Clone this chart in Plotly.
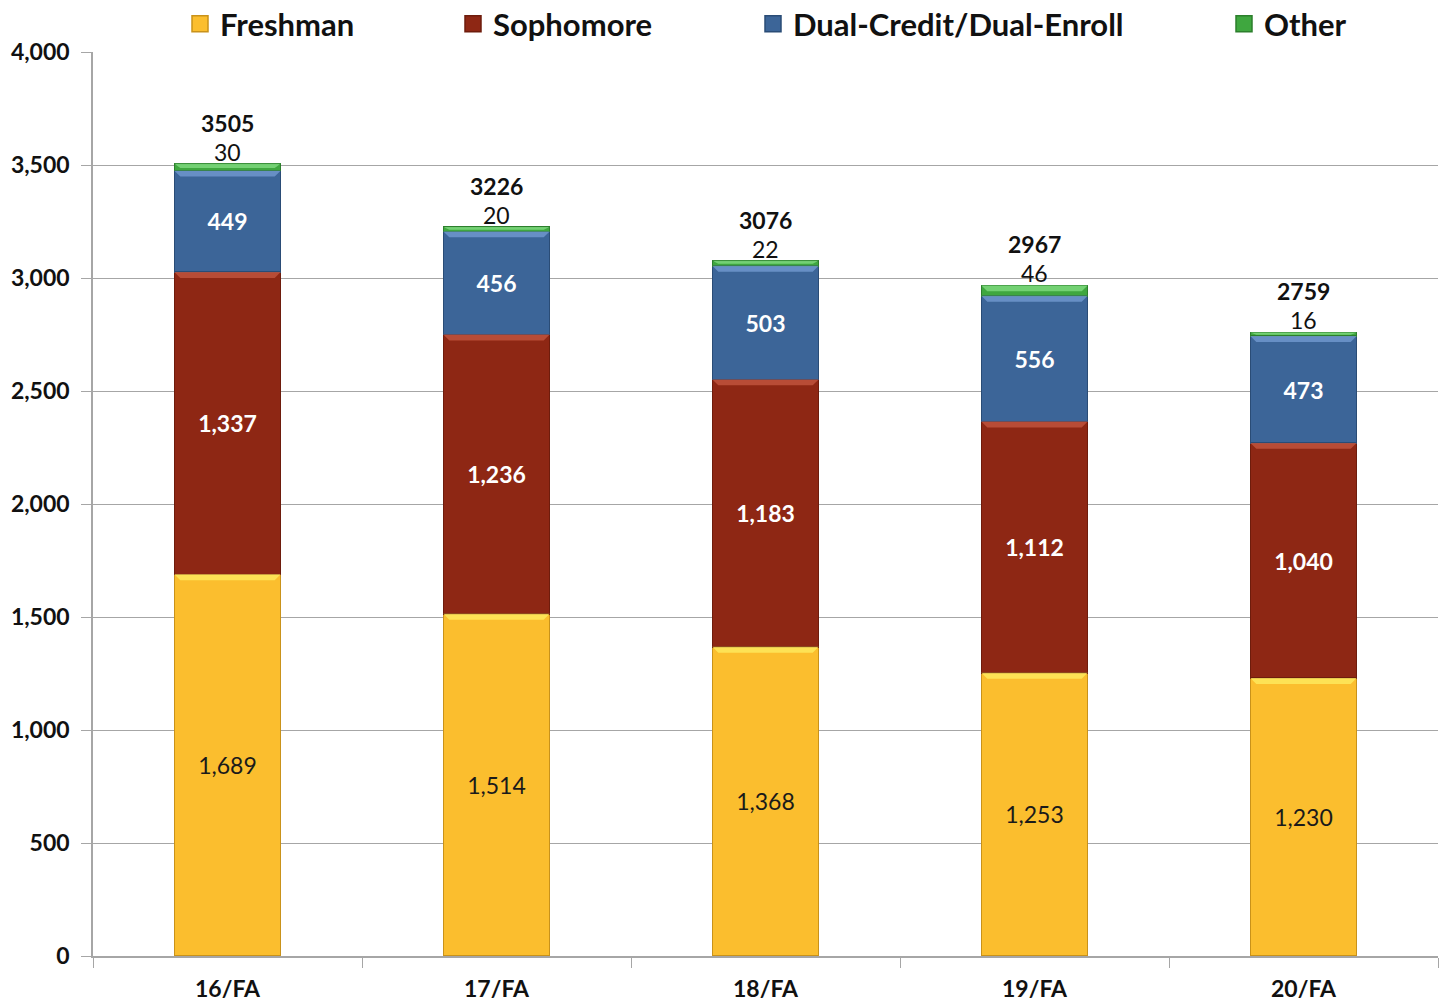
import plotly.graph_objects as go

terms = ["16/FA", "17/FA", "18/FA", "19/FA", "20/FA"]
freshman = [1689, 1514, 1368, 1253, 1230]
sophomore = [1337, 1236, 1183, 1112, 1040]
dual = [449, 456, 503, 556, 473]
other = [30, 20, 22, 46, 16]
totals = [3505, 3226, 3076, 2967, 2759]

YELLOW = "#FBBE2E"
RED = "#8E2714"
BLUE = "#3C6598"
GREEN = "#3FA73F"
FONT = "Lato"

W, H = 1439, 994
BARGAP = 0.605

series = [
    ("Freshman", freshman, YELLOW, "#1a1a1a", False, "legend", "#C9921A", "#FDE95C"),
    ("Sophomore", sophomore, RED, "white", True, "legend2", "#6E1C0C", "#C0543C"),
    ("Dual-Credit/Dual-Enroll", dual, BLUE, "white", True, "legend3", "#2A4C76", "#6F97CC"),
    ("Other", other, GREEN, "#1a1a1a", False, "legend4", "#2C7F2C", "#7DD87D"),
]

fig = go.Figure()
base = [0] * len(terms)
for name, vals, color, tcol, bold, leg, edge, light in series:
    is_top = name == "Other"
    fig.add_bar(
        name=name, x=terms, y=vals,
        marker=dict(color=color, line=dict(color=edge, width=1.5)),
        text=None if is_top else [f"{v:,}" for v in vals],
        textposition="inside",
        insidetextanchor="middle",
        textangle=0,
        constraintext="none",
        textfont=dict(family=FONT, size=23, color=tcol,
                      weight="bold" if bold else "normal"),
        showlegend=False,
        hoverinfo="skip",
    )
    # legend entry with a bigger square swatch
    fig.add_scatter(
        name=name, x=[None], y=[None], mode="markers",
        marker=dict(symbol="square", size=18, color=color,
                    line=dict(color=edge, width=1.5)),
        legend=leg, showlegend=True,
    )
    # bevel highlight along the top of each segment
    half = (1 - BARGAP) / 2
    dx = 0.022
    for i, v in enumerate(vals):
        top = base[i] + v
        h = min(26, v * 0.6)
        x0, x1 = i - half, i + half
        fig.add_shape(
            type="path", xref="x", yref="y", layer="above",
            path=f"M {x0},{top} L {x1},{top} L {x1 - dx},{top - h} L {x0 + dx},{top - h} Z",
            fillcolor=light, line=dict(width=0), opacity=0.85,
        )
        base[i] = top

# "Other" value just above each bar, total above that
for t, o, tot in zip(terms, other, totals):
    fig.add_annotation(x=t, y=tot, text=f"{o}", showarrow=False,
                       yanchor="bottom", yshift=-4,
                       font=dict(family=FONT, size=23, color="#111"))
    fig.add_annotation(x=t, y=tot, text=f"<b>{tot}</b>", showarrow=False,
                       yanchor="bottom", yshift=25,
                       font=dict(family=FONT, size=23, color="#111"))

leg_common = dict(orientation="h", yref="container", y=1 - 16 / H, yanchor="middle",
                  xref="container", xanchor="left",
                  font=dict(family=FONT, size=31, color="#111", weight="bold"),
                  bgcolor="rgba(0,0,0,0)", itemwidth=30)
fig.update_layout(
    showlegend=True,
    legend=dict(x=172 / W, **leg_common),
    legend2=dict(x=445 / W, **leg_common),
    legend3=dict(x=745 / W, **leg_common),
    legend4=dict(x=1216 / W, **leg_common),
)

fig.update_layout(
    width=W, height=H,
    barmode="stack", bargap=BARGAP,
    plot_bgcolor="white", paper_bgcolor="white",
    margin=dict(l=85, r=9, t=44, b=46, autoexpand=False),
    font=dict(family=FONT, color="#111"),
    xaxis=dict(
        tickson="boundaries", ticks="outside", ticklen=10, tickcolor="#A6A6A6",
        showline=True, linecolor="#A6A6A6", linewidth=1.5,
        tickfont=dict(family=FONT, size=23, color="#111", weight="bold"),
        ticklabelstandoff=12,
        showgrid=False, automargin=False,
    ),
    yaxis=dict(
        range=[0, 4000], dtick=500, tickformat=",",
        ticks="outside", ticklen=10, tickcolor="#A6A6A6",
        showline=True, linecolor="#A6A6A6", linewidth=1.5,
        gridcolor="#A6A6A6", gridwidth=1,
        tickfont=dict(family=FONT, size=23, color="#111", weight="bold"),
        ticklabelstandoff=7,
        zeroline=False, automargin=False,
    ),
)

fig.write_html("out.html")
